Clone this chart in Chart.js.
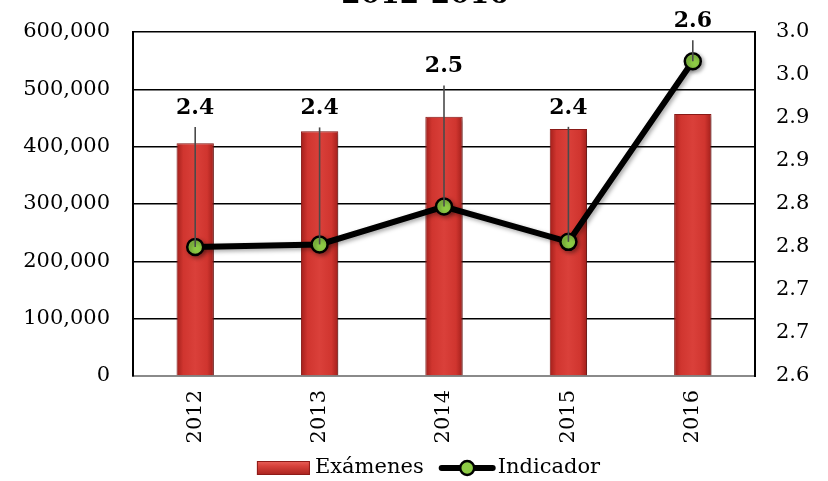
<!DOCTYPE html>
<html><head><meta charset="utf-8">
<script src="https://cdn.jsdelivr.net/npm/chart.js@4"></script>
<style>
html,body{margin:0;padding:0;background:#fff;overflow:hidden}
</style>
</head><body>
<canvas id="c" width="828" height="481" style="width:828px;height:481px;display:block"></canvas>
<script>
// ---- data ----
const categories = ['2012', '2013', '2014', '2015', '2016'];
const examenes = [406000, 427000, 452000, 431000, 457000];
const indicador = [2.750, 2.753, 2.797, 2.756, 2.966];
const indicadorLabels = ['2.4', '2.4', '2.5', '2.4', '2.6'];
const rightTickLabels = ['2.6', '2.7', '2.7', '2.8', '2.8', '2.9', '2.9', '3.0', '3.0'];
const seriesNames = ['Exámenes', 'Indicador'];
const titleText = '2012-2016';

const SERIF = '"DejaVu Serif", "Liberation Serif", serif';

function drawBarIcon(g, x, y) { // x,y = left, vertical center
  const gr = g.createLinearGradient(0, y - 7, 0, y + 7);
  gr.addColorStop(0, '#E9625B'); gr.addColorStop(0.35, '#D8433C'); gr.addColorStop(1, '#A8221E');
  g.fillStyle = gr; g.fillRect(x, y - 7, 53, 14);
  g.strokeStyle = '#8E1B18'; g.lineWidth = 1; g.strokeRect(x + 0.5, y - 6.5, 52, 13);
}
function drawLineIcon(g, x, y) {
  g.strokeStyle = '#000'; g.lineWidth = 6; g.lineCap = 'round';
  g.beginPath(); g.moveTo(x + 3, y); g.lineTo(x + 54, y); g.stroke();
  g.beginPath(); g.arc(x + 28.5, y, 7, 0, Math.PI * 2);
  g.fillStyle = '#8DCB45'; g.fill(); g.lineWidth = 2.5; g.stroke();
}

const barGradientPlugin = {
  id: 'barGradient',
  beforeDatasetsDraw(chart) {
    const meta = chart.getDatasetMeta(0);
    meta.data.forEach(el => {
      const l = el.x - el.width / 2, r = el.x + el.width / 2;
      const g = chart.ctx.createLinearGradient(l, 0, r, 0);
      g.addColorStop(0, '#A21F1B');
      g.addColorStop(0.18, '#D0352F');
      g.addColorStop(0.5, '#DA403A');
      g.addColorStop(0.82, '#D0352F');
      g.addColorStop(1, '#A21F1B');
      el.options = Object.assign({}, el.options, {backgroundColor: g});
    });
  },
  beforeDatasetDraw(chart) {
    const ctx = chart.ctx;
    ctx.save();
    ctx.shadowColor = 'rgba(0,0,0,0.35)';
    ctx.shadowBlur = 4;
    ctx.shadowOffsetX = 2;
    ctx.shadowOffsetY = 2;
  },
  afterDatasetDraw(chart) { chart.ctx.restore(); }
};

const labelPlugin = {
  id: 'pointLabels',
  afterDatasetsDraw(chart, args, opts) {
    const ctx = chart.ctx;
    const meta = chart.getDatasetMeta(1);
    ctx.save();
    meta.data.forEach((pt, i) => {
      const ly = pt.y + opts.offsets[i];
      ctx.strokeStyle = '#4a4a4a'; ctx.lineWidth = 1.6;
      ctx.beginPath(); ctx.moveTo(pt.x, ly + 19); ctx.lineTo(pt.x, pt.y); ctx.stroke();
      ctx.fillStyle = '#000';
      ctx.font = 'bold 22px ' + SERIF;
      ctx.textAlign = 'center'; ctx.textBaseline = 'middle';
      ctx.fillText(indicadorLabels[i], pt.x, ly);
    });
    ctx.restore();
  }
};

const titleLegendPlugin = {
  id: 'titleLegend',
  afterDraw(chart, args, opts) {
    const ctx = chart.ctx;
    ctx.save();
    // title (cut off at the top, as in the source image)
    ctx.fillStyle = '#000';
    ctx.font = 'bold 28px ' + SERIF;
    ctx.textAlign = 'center'; ctx.textBaseline = 'alphabetic';
    ctx.fillText(titleText, opts.titleX, opts.titleY);
    // legend
    ctx.font = '21px ' + SERIF;
    ctx.textAlign = 'left'; ctx.textBaseline = 'middle';
    const w0 = ctx.measureText(seriesNames[0]).width;
    const w1 = ctx.measureText(seriesNames[1]).width;
    const total = 53 + 5 + w0 + 15 + 57 + 2 + w1;
    let x = opts.legendX - total / 2;
    const y = opts.legendY;
    drawBarIcon(ctx, x, y); x += 53 + 5;
    ctx.fillStyle = '#000'; ctx.fillText(seriesNames[0], x, y); x += w0 + 15;
    drawLineIcon(ctx, x, y); x += 57 + 2;
    ctx.fillStyle = '#000'; ctx.fillText(seriesNames[1], x, y);
    ctx.restore();
  }
};

const chart = new Chart(document.getElementById('c'), {
  data: {
    labels: categories,
    datasets: [
      {
        type: 'bar', label: seriesNames[0], data: examenes, yAxisID: 'y', order: 1,
        backgroundColor: '#D0352F', borderColor: '#8E1B18', borderWidth: 1,
        barPercentage: 0.6, categoryPercentage: 0.5
      },
      {
        type: 'line', label: seriesNames[1], data: indicador, yAxisID: 'y1', order: 0,
        borderColor: '#000', borderWidth: 6, tension: 0,
        pointRadius: 8, pointBorderWidth: 2.5, pointBackgroundColor: '#8DCB45',
        pointBorderColor: '#000', fill: false
      }
    ]
  },
  options: {
    responsive: false,
    animation: false,
    devicePixelRatio: 1,
    layout: { padding: { top: 32, left: 0, right: 0, bottom: 0 } },
    plugins: {
      tooltip: { enabled: false },
      title: { display: false },
      legend: { display: false },
      pointLabels: { offsets: [-139, -136, -140, -134, -40] },
      titleLegend: { titleX: 425, titleY: 3, legendX: 428.5, legendY: 468 }
    },
    scales: {
      x: {
        offset: true,
        grid: { display: false, drawTicks: false },
        border: { color: '#8a8a8a', width: 2 },
        ticks: { color: '#000', font: { family: SERIF, size: 21 }, minRotation: 90, maxRotation: 90, padding: 14 },
        afterFit: (s) => { s.height = 105; }
      },
      y: {
        position: 'left', min: 0, max: 600000,
        ticks: { stepSize: 100000, color: '#000', padding: 3, font: { family: SERIF, size: 21 },
                 callback: (v) => Number(v).toLocaleString('en-US') },
        grid: { color: (c) => (c.tick && c.tick.value === 0) ? '#8a8a8a' : '#000', lineWidth: 1.5,
                drawTicks: true, tickLength: 20, tickColor: 'rgba(0,0,0,0)' },
        border: { color: '#000', width: 2 },
        afterFit: (s) => { s.width = 133; }
      },
      y1: {
        position: 'right', min: 2.6, max: 3.0,
        ticks: { stepSize: 0.05, color: '#000', padding: 3, font: { family: SERIF, size: 21 },
                 callback: (v, i) => rightTickLabels[i] },
        grid: { display: false, drawTicks: true, tickLength: 18, tickColor: 'rgba(0,0,0,0)' },
        border: { color: '#000', width: 2 },
        afterFit: (s) => { s.width = 73; }
      }
    }
  },
  plugins: [barGradientPlugin, labelPlugin, titleLegendPlugin]
});
</script>
</body></html>
